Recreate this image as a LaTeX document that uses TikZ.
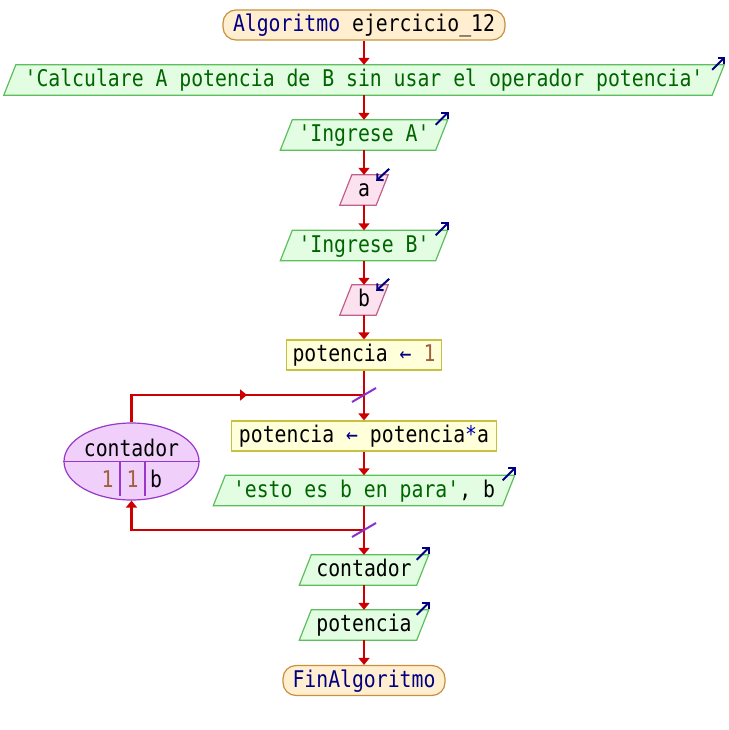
\documentclass[tikz,border=0pt]{standalone}
\usepackage{fontspec}
\newfontfamily\psfont{DejaVu Sans Mono}[FakeStretch=0.86]
\usetikzlibrary{arrows.meta,shapes.geometric,backgrounds,decorations.markings,calc}
\definecolor{flowred}{HTML}{CC0000}
\definecolor{kw}{HTML}{000080}
\definecolor{strg}{HTML}{006400}
\definecolor{numc}{HTML}{A0603C}
\definecolor{termfill}{HTML}{FFEFD0}
\definecolor{termdraw}{HTML}{C8903C}
\definecolor{outfill}{HTML}{E2FDE2}
\definecolor{outdraw}{HTML}{5CBF5C}
\definecolor{infill}{HTML}{FCE2EE}
\definecolor{indraw}{HTML}{C0608C}
\definecolor{asgfill}{HTML}{FFFFDA}
\definecolor{asgdraw}{HTML}{C8C040}
\definecolor{ellfill}{HTML}{F0D0FA}
\definecolor{elldraw}{HTML}{9838C8}
\newcommand\paral[2]{%
  \begin{pgfonlayer}{background}
    \draw[#2] ($(#1.north west)+(6,0)$) -- ($(#1.north east)+(6,0)$) -- ($(#1.south east)+(-6,0)$) -- ($(#1.south west)+(-6,0)$) -- cycle;
  \end{pgfonlayer}}
\newcommand\outicon[1]{\draw[icon] ($(#1.north east)+(-6,5)$) -- ($(#1.north east)+(7,-8)$);}
\newcommand\inicon[1]{\draw[icon] ($(#1.north east)+(7,-6)$) -- ($(#1.north east)+(-6,6)$);}
\begin{document}
\begin{tikzpicture}[x=1pt,y=-1pt,
  txt/.style={font=\psfont\fontsize{23}{23}\selectfont, inner sep=0pt, minimum height=30pt, text height=17pt, text depth=4pt},
  term/.style={txt, draw=termdraw, fill=termfill, line width=1.2pt, rounded corners=13pt},
  asg/.style={txt, draw=asgdraw, fill=asgfill, line width=1.2pt},
  outshape/.style={draw=outdraw, fill=outfill, line width=1.2pt},
  inshape/.style={draw=indraw, fill=infill, line width=1.2pt},
  flow/.style={draw=flowred, line width=2.2pt, -{Triangle[length=7pt,width=11pt]}},
  plain/.style={draw=flowred, line width=2.2pt},
  icon/.style={draw=kw, line width=2pt, -{Straight Barb[length=4.5pt,width=9pt]}},
  slash/.style={draw=elldraw!90!blue, line width=2pt},
  midarrow/.style={postaction=decorate, decoration={markings, mark=at position 0.55 with {\arrow{Triangle[length=7pt,width=11pt]}}}}
]
\useasboundingbox (0,0) rectangle (728,730);

\node[term, minimum width=282pt] (start) at (364,25) {\textcolor{kw}{Algoritmo} ejercicio\_12};

\node[txt, minimum width=708pt] (calc) at (364,80) {\textcolor{strg}{'Calculare A potencia de B sin usar el operador potencia'}};
\paral{calc}{outshape}
\outicon{calc}

\node[txt, minimum width=155pt] (ina) at (364,135) {\textcolor{strg}{'Ingrese A'}};
\paral{ina}{outshape}
\outicon{ina}

\node[txt, minimum width=36pt] (rda) at (364,190) {a};
\paral{rda}{inshape}
\inicon{rda}

\node[txt, minimum width=155pt] (inb) at (364,245.5) {\textcolor{strg}{'Ingrese B'}};
\paral{inb}{outshape}
\outicon{inb}

\node[txt, minimum width=36pt] (rdb) at (364,300) {b};
\paral{rdb}{inshape}
\inicon{rdb}

\node[asg, minimum width=155pt] (p1) at (364,355) {potencia \textcolor{kw}{←} \textcolor{numc}{1}};

\coordinate (j1) at (364,395);

\node[asg, minimum width=265pt] (p2) at (364,436) {potencia \textcolor{kw}{←} potencia\textcolor{blue!70!black}{*}a};

\node[txt, minimum width=289pt] (esto) at (364,490.5) {\textcolor{strg}{'esto es b en para'}, b};
\paral{esto}{outshape}
\outicon{esto}

\coordinate (j2) at (364,530);

\node[txt, minimum width=117pt] (oc) at (364,570) {contador};
\paral{oc}{outshape}
\outicon{oc}

\node[txt, minimum width=117pt] (op) at (364,625) {potencia};
\paral{op}{outshape}
\outicon{op}

\node[term, minimum width=162pt] (fin) at (364,680.5) {\textcolor{kw}{FinAlgoritmo}};

% loop ellipse
\node[ellipse, draw=elldraw, fill=ellfill, line width=1.2pt, minimum width=135pt, minimum height=77pt, inner sep=0pt] (ell) at (131.5,461.5) {};
\draw[elldraw, line width=1.2pt] (ell.west) -- (ell.east);
\coordinate (d1) at (120,462);
\coordinate (d2) at (145,462);
\draw[elldraw, line width=1.2pt] (d1) -- ++(0,34);
\draw[elldraw, line width=1.2pt] (d2) -- ++(0,34);
\node[txt] (lvar) at (131.5,450) {contador};
\node[txt] (lini) at (107.5,480.5) {\textcolor{numc}{1}};
\node[txt] (lstep) at (132.5,480.5) {\textcolor{numc}{1}};
\node[txt] (lend) at (156,480.5) {b};

% connectors
\draw[flow] (start.south) -- (calc.north);
\draw[flow] (calc.south) -- (ina.north);
\draw[flow] (ina.south) -- (rda.north);
\draw[flow] (rda.south) -- (inb.north);
\draw[flow] (inb.south) -- (rdb.north);
\draw[flow] (rdb.south) -- (p1.north);
\draw[flow] (p1.south) -- (p2.north);
\draw[flow] (p2.south) -- (esto.north);
\draw[flow] (esto.south) -- (oc.north);
\draw[flow] (oc.south) -- (op.north);
\draw[flow] (op.south) -- (fin.north);

\draw[plain, midarrow] (ell.north) |- (j1);
\draw[flow] (j2) -- (j2 -| ell.south) -- (ell.south);

\draw[slash] ($(j1)+(-12,7)$) -- ($(j1)+(12,-7)$);
\draw[slash] ($(j2)+(-12,7)$) -- ($(j2)+(12,-7)$);
\end{tikzpicture}
\end{document}
